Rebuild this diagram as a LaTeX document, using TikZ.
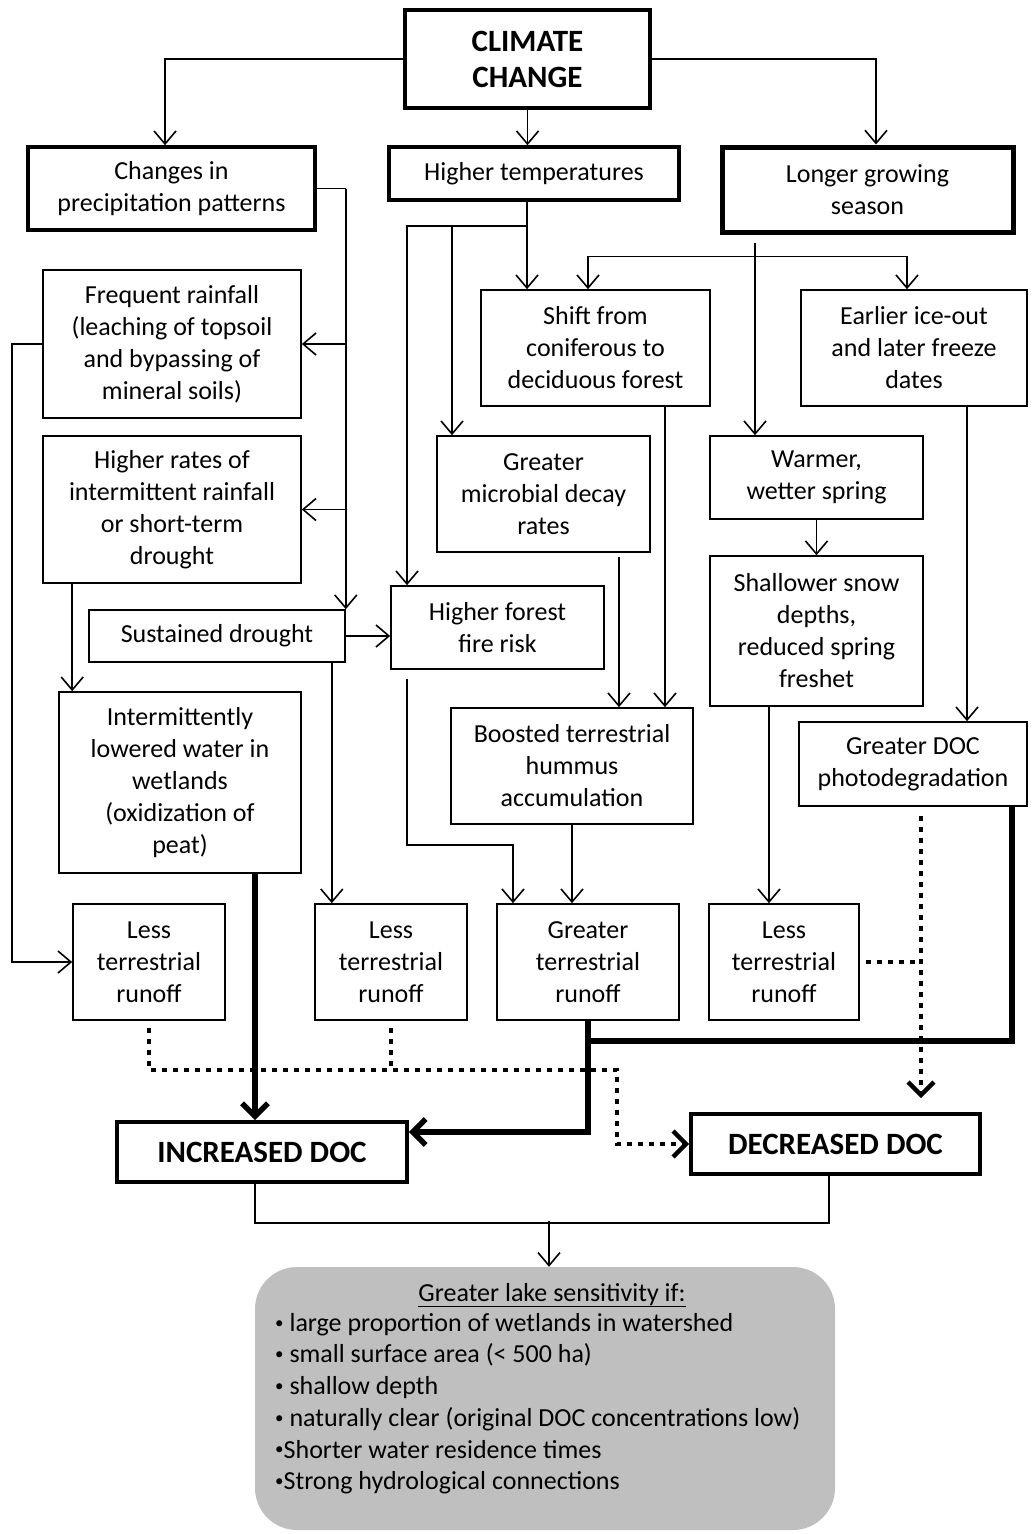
\documentclass[tikz,border=0pt]{standalone}
\usepackage{fontspec}
\setmainfont{Carlito}
\usetikzlibrary{arrows.meta,calc}
\definecolor{graybox}{RGB}{191,191,191}
\newcommand\smbul{\raisebox{0.25ex}{\fontsize{17}{17}\selectfont •}}
\begin{document}
\begin{tikzpicture}[x=1pt,y=-1pt,
  box/.style={draw, line width=1.6pt, inner sep=0pt, align=center, font=\fontsize{26}{32}\selectfont},
  boxthick/.style={box, line width=3.6pt},
  boxheavy/.style={box, line width=5pt},
  title/.style={font=\fontsize{31}{36}\selectfont\bfseries},
  arr/.style={line width=1.6pt, -{Straight Barb[length=13pt,width=22pt]}},
  ln/.style={line width=1.6pt},
  thickln/.style={line width=5.5pt},
  thickarr/.style={line width=5.5pt, -{Straight Barb[length=13pt,width=26pt]}},
  dotln/.style={line width=4.5pt, dash pattern=on 5pt off 6pt},
  dotarr/.style={dotln, -{Straight Barb[length=13pt,width=26pt]}}
]
\useasboundingbox (0,0) rectangle (1031,1534);

% top level
\node[boxthick, title, minimum width=245pt, minimum height=98pt] (cc) at (527.5,59) {CLIMATE\\CHANGE};
\node[boxthick, minimum width=287pt, minimum height=83pt] (chg) at (171.5,188.5) {Changes in\\precipitation patterns};
\node[boxthick, minimum width=290pt, minimum height=53pt] (ht) at (534,173.5) {Higher temperatures};
\node[boxheavy, minimum width=291pt, minimum height=85pt] (lgs) at (867.5,189.5) {Longer growing\\season};

% left column
\node[box, minimum width=258pt, minimum height=148pt] (fr) at (172,344) {Frequent rainfall\\(leaching of topsoil\\and bypassing of\\mineral soils)};
\node[box, minimum width=258pt, minimum height=147pt] (hr) at (172,509.5) {Higher rates of\\intermittent rainfall\\or short-term\\drought};
\node[box, minimum width=256pt, minimum height=52pt] (sd) at (217,636) {Sustained drought};
\node[box, minimum width=242pt, minimum height=181pt] (int) at (180,782.5) {Intermittently\\lowered water in\\wetlands\\(oxidization of\\peat)};

% middle/right
\node[box, minimum width=229pt, minimum height=116pt] (shift) at (595.5,348) {Shift from\\coniferous to\\deciduous forest};
\node[box, minimum width=226pt, minimum height=116pt] (ice) at (914,348) {Earlier ice-out\\and later freeze\\dates};
\node[box, minimum width=213pt, minimum height=116pt] (mic) at (543.5,494) {Greater\\microbial decay\\rates};
\node[box, minimum width=213pt, minimum height=83pt] (warm) at (816.5,477.5) {Warmer,\\wetter spring};
\node[box, minimum width=213pt, minimum height=150pt] (shal) at (816.5,631) {Shallower snow\\depths,\\reduced spring\\freshet};
\node[box, minimum width=213pt, minimum height=83pt] (fire) at (497.5,627.5) {Higher forest\\fire risk};
\node[box, minimum width=242pt, minimum height=116pt] (boost) at (572,766) {Boosted terrestrial\\hummus\\accumulation};
\node[box, minimum width=228pt, minimum height=84pt] (gdoc) at (913,764) {Greater DOC\\photodegradation};

% runoff row
\node[box, minimum width=152pt, minimum height=116pt] (l1) at (149,962) {Less\\terrestrial\\runoff};
\node[box, minimum width=152pt, minimum height=116pt] (l2) at (391,962) {Less\\terrestrial\\runoff};
\node[box, minimum width=182pt, minimum height=116pt] (gr) at (588,962) {Greater\\terrestrial\\runoff};
\node[box, minimum width=150pt, minimum height=116pt] (l3) at (784,962) {Less\\terrestrial\\runoff};

% DOC outcomes
\node[boxthick, title, minimum width=290pt, minimum height=60pt] (inc) at (262,1152) {INCREASED DOC};
\node[boxthick, title, minimum width=289pt, minimum height=60pt] (dec) at (835.5,1144) {DECREASED DOC};

% gray box
\node[fill=graybox, rounded corners=42pt, minimum width=580pt, minimum height=263pt, inner sep=0pt] (gray) at (545,1398.5) {};
\node[font=\fontsize{26}{32}\selectfont, anchor=base, inner sep=0pt] (ghead) at (552,1301) {\underline{Greater lake sensitivity if:}};
\node[font=\fontsize{26}{31.7}\selectfont, anchor=north west, align=left, inner sep=0pt] (glist) at (275,1313)
 {\smbul\ large proportion of wetlands in watershed\\
  \smbul\ small surface area (< 500 ha)\\
  \smbul\ shallow depth\\
  \smbul\ naturally clear (original DOC concentrations low)\\
  \smbul Shorter water residence times\\
  \smbul Strong hydrological connections};

% connectors from climate change
\draw[arr] (cc.west) -| ([xshift=-6.5pt]chg.north);
\draw[arr] (cc.south) -- (cc.south |- ht.north);
\draw[arr] (cc.east) -| ([xshift=8.5pt]lgs.north);

% precipitation branch
\coordinate (pv) at (sd.north east |- chg.east);
\draw[ln] (chg.east) -- (pv);
\draw[arr] (pv) -- (sd.north east);
\draw[arr] (pv |- fr.east) -- (fr.east);
\draw[arr] (pv |- hr.east) -- (hr.east);
\draw[arr] (fr.west) -- ++(-30,0) |- (l1.west);
\draw[arr] (hr.south -| l1.west) -- (int.north -| l1.west);
\draw[arr] (sd.east) -- (sd.east -| fire.west);
\draw[arr] ([xshift=-14pt]sd.south east) -- ([xshift=-14pt]sd.south east |- l2.north);

% higher temperatures branch
\draw[arr] ([xshift=-7pt]ht.south) -- ([xshift=-7pt]ht.south |- shift.north);
\draw[arr] ([xshift=-7pt,yshift=-24pt]ht.south) -| ([xshift=-90.5pt]fire.north);
\draw[arr] ([xshift=-82pt,yshift=-24pt]ht.south) -- ([xshift=-91.5pt]mic.north);

% growing season branch
\coordinate (gb) at ([xshift=-112.5pt,yshift=-22pt]lgs.south);
\draw[arr] ([xshift=-112.5pt,yshift=-8pt]lgs.south) -- ([xshift=-61.5pt]warm.north);
\draw[arr] (gb) -| ([xshift=-7.5pt]shift.north);
\draw[arr] (gb) -| ([xshift=-7pt]ice.north);
\draw[arr] (warm.south) -- (shal.north);

% mid connections
\draw[arr] ([xshift=69.5pt]shift.south) -- ([xshift=69.5pt]shift.south |- boost.north);
\draw[arr] ([xshift=75.5pt,yshift=-4pt]mic.south) -- ([xshift=75.5pt]mic.south |- boost.north);
\draw[arr] ([xshift=53pt]ice.south) -- ([xshift=53pt]ice.south |- gdoc.north);
\draw[arr] ([xshift=-90.5pt,yshift=-9pt]fire.south) -- ++(0,166) -| ([xshift=-75pt]gr.north);
\draw[arr] (boost.south) -- (boost.south |- gr.north);
\draw[arr] ([xshift=-47.5pt]shal.south) -- ([xshift=-47.5pt]shal.south |- l3.north);

% thick connectors to increased DOC
\draw[thickarr] ([xshift=75pt]int.south) -- ([xshift=75pt]int.south |- inc.north);
\draw[thickarr] (gr.south) |- ([yshift=20pt]inc.east);
\draw[thickln] ([xshift=99pt]gdoc.south) |- ([yshift=-20pt]gr.south);

% dotted connectors to decreased DOC
\draw[dotarr] ([yshift=-7pt]l1.south) -- ++(0,42) -- ++(468,0) |- (dec.west);
\draw[dotln] ([yshift=-7pt]l2.south) -- ++(0,42);
\draw[dotarr] ([xshift=8pt,yshift=-9pt]gdoc.south) -- ([xshift=85.5pt,yshift=14pt]dec.north);
\draw[dotln] ([xshift=6pt]l3.east) -- ([xshift=8pt]gdoc.south |- l3.east);

% to gray box
\draw[ln] ([xshift=-7pt]inc.south) |- ([xshift=-6.5pt,yshift=-47pt]dec.south) -- ([xshift=-6.5pt]dec.south);
\draw[arr] ([xshift=4pt]gray.north |- 0,1221) -- ([xshift=4pt]gray.north);
\end{tikzpicture}
\end{document}
